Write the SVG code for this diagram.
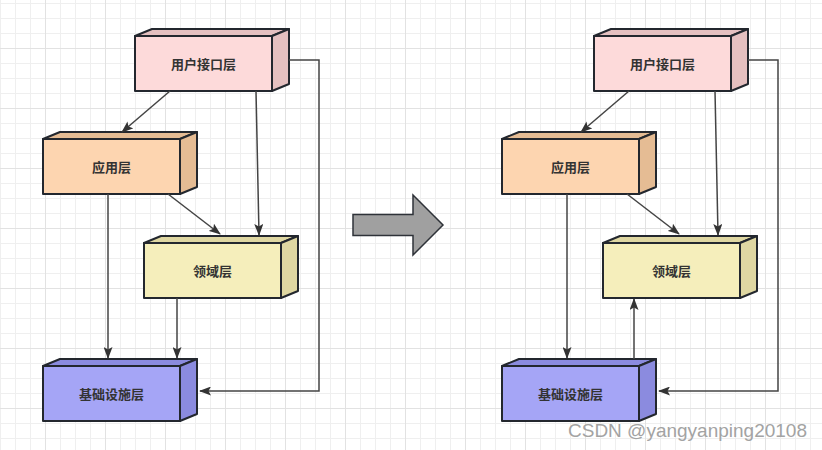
<svg xmlns="http://www.w3.org/2000/svg" width="822" height="450" viewBox="0 0 822 450">
<defs>
<pattern id="minor" width="15" height="15" patternUnits="userSpaceOnUse" x="0" y="3">
<path d="M0 0.5 H15 M0.5 0 V15" stroke="#efefef" stroke-width="1" fill="none"/>
</pattern>
<pattern id="major" width="60" height="60" patternUnits="userSpaceOnUse" x="45" y="48">
<path d="M0 0.5 H60 M0.5 0 V60" stroke="#e2e2e2" stroke-width="1" fill="none"/>
</pattern>
<marker id="arr" markerWidth="12" markerHeight="9" refX="11" refY="4.5" orient="auto" markerUnits="userSpaceOnUse">
<path d="M0,0 L12,4.5 L0,9 L2.5,4.5 z" fill="#333"/>
</marker>
</defs>
<style>
.face{stroke:#23272e;stroke-width:2;stroke-linejoin:round}
.lbl{font-family:"Noto Sans CJK SC","Noto Sans",sans-serif;font-size:13px;font-weight:bold;fill:#333;text-anchor:middle;dominant-baseline:central}
.c{fill:none;stroke:#444;stroke-width:1.5;marker-end:url(#arr)}
.pink .f{fill:#fddada}.pink .s{fill:#e5c0c0}
.orange .f{fill:#fdd5b0}.orange .s{fill:#e5bc94}
.yellow .f{fill:#f5eebb}.yellow .s{fill:#dfd7a2}
.blue .f{fill:#a5a5f6}.blue .s{fill:#8b8bdf}
</style>
<rect width="822" height="450" fill="#ffffff"/>
<rect width="822" height="450" fill="url(#minor)"/>
<rect width="822" height="450" fill="url(#major)"/>

<!-- Left diagram -->
<g id="L-ui" class="pink">
<polygon class="face s" points="135,36 152,29 289,29 272,36"/>
<polygon class="face s" points="272,36 289,29 289,84 272,91"/>
<rect class="face f" x="135" y="36" width="137" height="55"/>
<text class="lbl" x="203.5" y="63.5">用户接口层</text>
</g>
<g id="L-app" class="orange">
<polygon class="face s" points="43,139 60,132 197,132 180,139"/>
<polygon class="face s" points="180,139 197,132 197,187 180,194"/>
<rect class="face f" x="43" y="139" width="137" height="55"/>
<text class="lbl" x="111.5" y="166.5">应用层</text>
</g>
<g id="L-domain" class="yellow">
<polygon class="face s" points="144,243 161,236 298,236 281,243"/>
<polygon class="face s" points="281,243 298,236 298,291 281,298"/>
<rect class="face f" x="144" y="243" width="137" height="55"/>
<text class="lbl" x="212.5" y="270.5">领域层</text>
</g>
<g id="L-infra" class="blue">
<polygon class="face s" points="43,366 60,359 197,359 180,366"/>
<polygon class="face s" points="180,366 197,359 197,414 180,421"/>
<rect class="face f" x="43" y="366" width="137" height="55"/>
<text class="lbl" x="111.5" y="393.5">基础设施层</text>
</g>

<!-- Right diagram -->
<g id="R-ui" class="pink">
<polygon class="face s" points="594,36 611,29 748,29 731,36"/>
<polygon class="face s" points="731,36 748,29 748,84 731,91"/>
<rect class="face f" x="594" y="36" width="137" height="55"/>
<text class="lbl" x="662.5" y="63.5">用户接口层</text>
</g>
<g id="R-app" class="orange">
<polygon class="face s" points="502,139 519,132 656,132 639,139"/>
<polygon class="face s" points="639,139 656,132 656,187 639,194"/>
<rect class="face f" x="502" y="139" width="137" height="55"/>
<text class="lbl" x="570.5" y="166.5">应用层</text>
</g>
<g id="R-domain" class="yellow">
<polygon class="face s" points="603,243 620,236 757,236 740,243"/>
<polygon class="face s" points="740,243 757,236 757,291 740,298"/>
<rect class="face f" x="603" y="243" width="137" height="55"/>
<text class="lbl" x="671.5" y="270.5">领域层</text>
</g>
<g id="R-infra" class="blue">
<polygon class="face s" points="502,366 519,359 656,359 639,366"/>
<polygon class="face s" points="639,366 656,359 656,414 639,421"/>
<rect class="face f" x="502" y="366" width="137" height="55"/>
<text class="lbl" x="570.5" y="393.5">基础设施层</text>
</g>

<!-- Big transition arrow -->
<g id="transition">
<polygon points="353,214.5 413,214.5 413,195 443,225 413,255 413,235.5 353,235.5" fill="#a0a0a0" stroke="#2e3238" stroke-width="1.5" stroke-linejoin="miter"/>
</g>

<g id="connectors">
<path class="c" d="M170,91 L122,132"/>
<path class="c" d="M256,91 L259,235"/>
<path class="c" d="M289,60 H319 V391 H200"/>
<path class="c" d="M168,194 L220,234"/>
<path class="c" d="M108,194 V358"/>
<path class="c" d="M177,298 V358"/>

<path class="c" d="M629,91 L581,132"/>
<path class="c" d="M715,91 L718,235"/>
<path class="c" d="M748,60 H778 V391 H659"/>
<path class="c" d="M627,194 L679,234"/>
<path class="c" d="M567,194 V358"/>
<path class="c" d="M634,359 V299"/>
</g>

<text x="568" y="437" font-family="Liberation Sans, Arial, sans-serif" font-size="19" fill="#a3a3a3">CSDN @yangyanping20108</text>
</svg>
